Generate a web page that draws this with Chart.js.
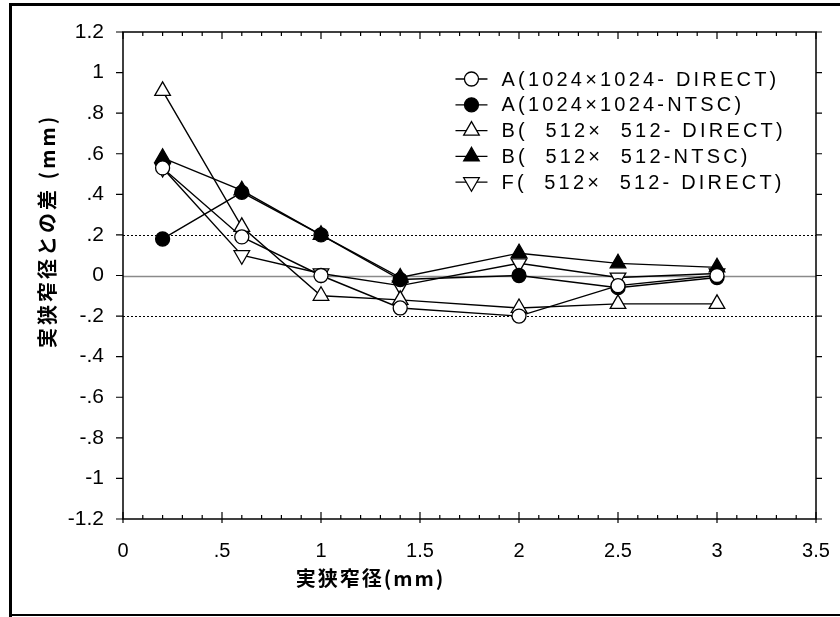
<!DOCTYPE html>
<html>
<head>
<meta charset="utf-8">
<script src="https://cdn.jsdelivr.net/npm/chart.js@4.4.1/dist/chart.umd.min.js"></script>
<style>
body { margin: 0; background: #fff; }
</style>
</head>
<body>
<canvas id="myChart" width="840" height="617"></canvas>
<script>
// 実狭窄径 (mm)
const xValues = [0.2, 0.6, 1.0, 1.4, 2.0, 2.5, 3.0];

// 実狭窄径との差 (mm)
const aDirect = [0.53, 0.19, 0.00, -0.16, -0.20, -0.05, 0.00];
const aNtsc   = [0.18, 0.41, 0.20, -0.02, 0.00, -0.06, -0.01];
const bDirect = [0.91, 0.24, -0.10, -0.12, -0.16, -0.14, -0.14];
const bNtsc   = [0.58, 0.42, 0.20, -0.01, 0.11, 0.06, 0.04];
const fDirect = [0.53, 0.10, 0.01, -0.05, 0.06, -0.01, 0.01];

const seriesLabels = [
  'A(1024×1024- DIRECT)',
  'A(1024×1024-NTSC)',
  'B(  512×  512- DIRECT)',
  'B(  512×  512-NTSC)',
  'F(  512×  512- DIRECT)'
];

const refLines = [0.2, 0, -0.2];
const xTitle = '実狭窄径(mm)';
const yTitle = '実狭窄径との差 (mm)';

const TXT_FONT = '"Liberation Sans", Arial, sans-serif';
const JP_FONT = '"Noto Sans CJK JP", sans-serif';

function toPoints(arr) {
  return arr.map((v, i) => ({ x: xValues[i], y: v }));
}

function fmt(v) {
  let s = (Math.round(v * 10) / 10).toString();
  return s.replace(/^(-?)0\./, '$1.');
}

const markers = [
  { style: 'circle', fill: '#fff', r: 7, rot: 0 },
  { style: 'circle', fill: '#000', r: 7, rot: 0 },
  { style: 'triangle', fill: '#fff', r: 9, rot: 0 },
  { style: 'triangle', fill: '#000', r: 9, rot: 0 },
  { style: 'triangle', fill: '#fff', r: 9, rot: 180 }
];
const seriesData = [aDirect, aNtsc, bDirect, bNtsc, fDirect];

const datasets = seriesData.map((arr, i) => ({
  label: seriesLabels[i],
  data: toPoints(arr),
  showLine: true,
  borderColor: '#000',
  borderWidth: 1.4,
  pointStyle: markers[i].style,
  pointRotation: markers[i].rot,
  pointRadius: markers[i].r,
  pointBackgroundColor: markers[i].fill,
  pointBorderColor: '#000',
  pointBorderWidth: 1.3
}));

function drawMarker(ctx, m, x, y) {
  ctx.save();
  ctx.fillStyle = m.fill;
  ctx.strokeStyle = '#000';
  ctx.lineWidth = 1.3;
  ctx.beginPath();
  if (m.style == 'circle') {
    ctx.arc(x, y, m.r, 0, Math.PI * 2);
  } else {
    let r = m.r;
    let dir = m.rot == 180 ? -1 : 1;
    ctx.moveTo(x, y - dir * r);
    ctx.lineTo(x - r * 0.866, y + dir * r / 2);
    ctx.lineTo(x + r * 0.866, y + dir * r / 2);
    ctx.closePath();
  }
  ctx.fill();
  ctx.stroke();
  ctx.restore();
}

// page frame, reference lines and axis ticks
const framePlugin = {
  id: 'frame',
  beforeDraw(chart) {
    const ctx = chart.ctx;
    ctx.save();
    ctx.fillStyle = '#fff';
    ctx.fillRect(0, 0, chart.width, chart.height);
    ctx.fillStyle = '#000';
    ctx.fillRect(9, 3, 3, chart.height - 3);
    ctx.fillRect(9, 3, chart.width - 9, 3);
    ctx.fillRect(9, chart.height - 3, chart.width - 9, 2);
    ctx.restore();
  },
  beforeDatasetsDraw(chart) {
    const ctx = chart.ctx;
    const area = chart.chartArea;
    const xs = chart.scales.x, ys = chart.scales.y;
    ctx.save();
    refLines.forEach(v => {
      const py = Math.round(ys.getPixelForValue(v)) + 0.5;
      ctx.beginPath();
      if (v == 0) {
        ctx.strokeStyle = '#8a8a8a';
        ctx.lineWidth = 1.5;
        ctx.setLineDash([]);
      } else {
        ctx.strokeStyle = '#000';
        ctx.lineWidth = 1;
        ctx.setLineDash([2, 2]);
      }
      ctx.moveTo(area.left, py);
      ctx.lineTo(area.right, py);
      ctx.stroke();
    });
    ctx.setLineDash([]);
    ctx.strokeStyle = '#000';
    ctx.lineWidth = 1.5;
    // box
    ctx.strokeRect(area.left, area.top, area.right - area.left, area.bottom - area.top);
    ctx.lineWidth = 1.2;
    // y ticks: outward on left, outward on right
    ys.ticks.forEach(t => {
      const py = ys.getPixelForValue(t.value);
      ctx.beginPath();
      ctx.moveTo(area.left - 7, py);
      ctx.lineTo(area.left, py);
      ctx.moveTo(area.right, py);
      ctx.lineTo(area.right + 6, py);
      ctx.stroke();
    });
    // x ticks: inward, minor every 0.1
    for (let i = 0; i <= 35; i++) {
      const px = xs.getPixelForValue(i / 10);
      const len = i % 5 == 0 ? 7 : 4;
      ctx.beginPath();
      ctx.moveTo(px, area.bottom);
      ctx.lineTo(px, area.bottom - len);
      ctx.moveTo(px, area.top);
      ctx.lineTo(px, area.top + len);
      if (i % 5 == 0) {
        ctx.moveTo(px, area.bottom);
        ctx.lineTo(px, area.bottom + 4);
      }
      ctx.stroke();
    }
    ctx.restore();
  },
  afterDraw(chart) {
    const ctx = chart.ctx;
    const area = chart.chartArea;
    const xs = chart.scales.x, ys = chart.scales.y;
    ctx.save();
    ctx.fillStyle = '#000';
    ctx.textBaseline = 'middle';
    // axis titles
    ctx.font = 'bold 20px ' + JP_FONT;
    ctx.textAlign = 'center';
    ctx.letterSpacing = '2px';
    ctx.fillText(xTitle, xs.getPixelForValue(1.25), area.bottom + 59);
    ctx.save();
    ctx.letterSpacing = '3px';
    ctx.translate(47, ys.getPixelForValue(0.22));
    ctx.rotate(-Math.PI / 2);
    ctx.fillText(yTitle, 0, 0);
    ctx.restore();
    // legend
    ctx.textAlign = 'left';
    ctx.font = '20px ' + TXT_FONT;
    ctx.letterSpacing = '3.2px';
    chart.data.datasets.forEach((ds, i) => {
      const y = 79 + i * 25.8;
      const mx = xs.getPixelForValue(1.76);
      ctx.strokeStyle = '#000';
      ctx.lineWidth = 1.3;
      ctx.beginPath();
      ctx.moveTo(mx - 16, y);
      ctx.lineTo(mx + 16, y);
      ctx.stroke();
      drawMarker(ctx, markers[i], mx, y);
      ctx.fillText(ds.label, mx + 30, y + 1);
    });
    ctx.restore();
  }
};

const config = {
  type: 'scatter',
  data: { datasets: datasets },
  options: {
    responsive: false,
    animation: false,
    layout: { padding: { left: 0, top: 32, right: 24, bottom: 0 } },
    plugins: {
      legend: { display: false },
      tooltip: { enabled: false }
    },
    scales: {
      x: {
        type: 'linear',
        min: 0,
        max: 3.5,
        afterFit: s => { s.height = 98; s.paddingLeft = 0; s.paddingRight = 0; },
        grid: { display: false, drawTicks: false },
        border: { display: false },
        ticks: {
          stepSize: 0.5,
          padding: 20,
          color: '#000',
          font: { family: TXT_FONT, size: 20 },
          callback: v => fmt(v)
        }
      },
      y: {
        type: 'linear',
        min: -1.2,
        max: 1.2,
        afterFit: s => { s.width = 123; s.paddingTop = 0; s.paddingBottom = 0; },
        grid: { display: false, drawTicks: false },
        border: { display: false },
        ticks: {
          stepSize: 0.2,
          padding: 19,
          color: '#000',
          font: { family: TXT_FONT, size: 21 },
          callback: v => fmt(v)
        }
      }
    }
  },
  plugins: [framePlugin]
};

const myChart = new Chart(document.getElementById('myChart'), config);
</script>
</body>
</html>
